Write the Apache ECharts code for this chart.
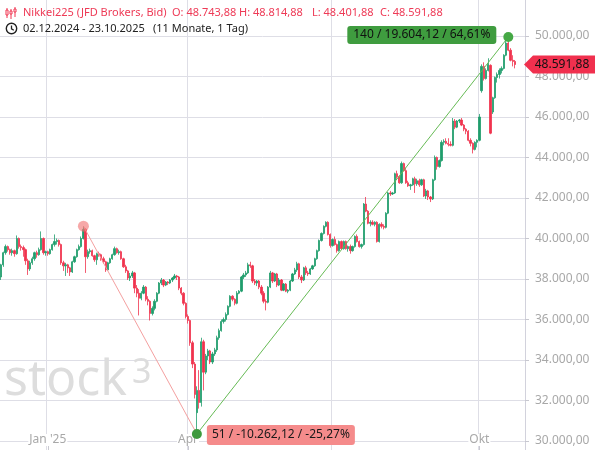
<!DOCTYPE html>
<html><head><meta charset="utf-8">
<script src="https://cdn.jsdelivr.net/npm/echarts@6/dist/echarts.min.js"></script>
<style>html,body{margin:0;padding:0;background:#fff;}#c{width:595px;height:450px;}</style>
</head><body><div id="c"></div>
<script>
// [open, high, low, close]
const candlesDec = [
[38100,38750,37950,38700],[38700,39350,38600,39300],[39300,39700,39200,39600],[39600,39650,39350,39450],
[39450,39500,39200,39300],[39300,39500,39150,39400],[39400,39450,39100,39250],[39250,40150,39200,40000],
[40000,40050,39500,39600],[39600,39700,39400,39550],[39550,39650,39100,39450],[39450,39500,38700,38900],
[38900,39000,38200,38500],[38500,38900,38400,38800],[38800,39100,38700,39000],[39000,39350,38900,39300],
[39300,39400,39050,39200],[39200,39550,39150,39450],[39450,40350,39400,40000],[40000,40050,39200,39300],
[39300,39400,39150,39350]];
const candlesJan = [
[39350,39400,39150,39250],[39250,39500,39200,39450],[39450,39750,39400,39700],[39700,40200,39600,39850],
[39850,40000,39700,39900],[39900,39950,39600,39700],[39700,39750,38700,38800],[38800,38900,38400,38650],
[38650,38800,38150,38700],[38700,38750,38300,38550],[38550,38600,38150,38350],[38350,38900,38300,38850],
[38850,39150,38800,39100],[39100,39500,39050,39450],[39450,39700,39400,39600],[39600,40100,39550,40000],
[40000,40608,39950,40450],[40450,40500,38300,39100],[39100,39450,39000,39350],[39350,39500,39250,39400],
[39400,39450,39100,39150],[39150,39200,38850,38950]];
const candlesFeb = [
[38950,39300,38700,39250],[39250,39350,39100,39200],[39200,39250,38900,39000],[39000,39100,38750,38850],
[38850,38900,38350,38450],[38450,38850,38400,38800],[38800,39050,38750,39000],[39000,39250,38950,39200],
[39200,39600,39150,39500],[39500,39550,39250,39300],[39300,39450,39200,39350],[39350,39400,38950,39000],
[39000,39050,38550,38600],[38600,38700,38300,38400],[38400,38450,37950,38050],[38050,38300,37900,38150],
[38150,38400,38050,38300],[38300,38350,37300,37550],[37550,37700,37100,37300],[37300,37500,36200,37050]];
const candlesMar = [
[37050,37400,36950,37300],[37300,37700,37250,37600],[37600,37650,36900,37000],[37000,37150,36700,36900],
[36900,36950,35950,36300],[36300,36650,36200,36550],[36550,37000,36450,36900],[36900,37350,36850,37300],
[37300,37850,37250,37800],[37800,38050,37700,37950],[37950,38000,37600,37700],[37700,37900,37650,37850],
[37850,37900,37700,37800],[37800,38000,37750,37950],[37950,38100,37850,38050],[38050,38250,38000,38150],
[38150,38200,37950,38100],[38100,38150,37450,37550],[37550,37600,37200,37300],[37300,37350,36700,36800],
[36800,36850,36050,36150]];
const candlesApr = [
[36150,36250,35800,35950],[35950,36000,34700,34850],[34850,34950,33600,33800],[33800,33900,32100,32300],
[31400,32700,30345.88,32500],[32500,33500,31600,31900],[31900,35100,31700,34900],[34900,35000,32500,33400],
[33400,34300,33300,34200],[34200,34550,34000,34450],[34450,34500,33800,33900],[33900,34400,33800,34300],
[34300,34600,34200,34500],[34500,35200,34400,35100],[35100,35550,35000,35450],[35450,36000,35400,35900],
[35900,36100,35800,36000],[36000,36350,35900,36250],[36250,36700,36200,36650],[36650,37200,36600,37150],
[37150,37200,36900,37000],[37000,37050,36700,36800]];
const candlesMay = [
[36800,37400,36750,37300],[37300,37450,37250,37400],[37400,38150,37350,38100],[38100,38300,38000,38200],
[38200,38400,38100,38300],[38300,38800,38250,38700],[38700,38850,38550,38650],[38650,38700,37800,37900],
[37900,38000,37700,37800],[37800,37950,37650,37900],[37900,37950,37500,37600],[37600,37700,37200,37300],
[37300,37400,36800,36900],[36900,37000,36450,36850],[36850,37650,36800,37600],[37600,38400,37550,38300],
[38300,38350,37800,37900],[37900,38300,37850,38250],[38250,38300,37600,37700],[37700,38050,37650,37950],
[37950,38000,37400,37450],[37450,37800,37400,37750]];
const candlesJun = [
[37750,37800,37350,37400],[37400,37500,37300,37450],[37450,37950,37400,37900],[37900,38300,37850,38250],
[38250,38550,38200,38450],[38450,38850,38350,38750],[38750,38800,38000,38100],[38100,38200,37800,37950],
[37950,38600,37900,38550],[38550,38650,38200,38300],[38300,38400,38150,38250],[38250,38550,38200,38500],
[38500,38700,38450,38650],[38650,39050,38600,39000],[39000,39450,38950,39400],[39400,39950,39350,39900],
[39900,40300,39850,40250],[40250,40650,40200,40600],[40600,40850,40550,40800],[40800,40850,40150,40200],
[40200,40250,39550,39650]];
const candlesJul = [
[39650,40000,39600,39950],[39950,40100,39650,39700],[39700,39750,39300,39400],[39400,39900,39350,39850],
[39850,39900,39450,39500],[39500,39900,39450,39850],[39850,39900,39450,39500],[39500,39650,39350,39600],
[39600,39700,39250,39400],[39400,39650,39350,39600],[39600,40150,39550,40100],[40100,40200,39800,39850],
[39850,39900,39550,39600],[39600,39750,39500,39700],[39700,41750,39650,41700],[41700,42050,41300,41350],
[41350,41400,40700,40750],[40750,40900,40600,40800],[40800,40900,40650,40700],[40700,40850,40600,40800],
[40800,40850,39800,39850],[39850,40750,39800,40700],[40700,40800,40500,40600]];
const candlesAug = [
[40600,40700,40450,40550],[40550,41300,40500,41250],[41250,42300,41200,42250],[42250,42350,42100,42200],
[42200,42300,42150,42250],[42250,43250,42200,43200],[43200,43350,42950,43050],[43050,43100,42700,42750],
[42750,43800,42700,43700],[43700,43750,43300,43350],[43350,43500,42700,42750],[42750,42850,42550,42600],
[42600,42700,42400,42650],[42650,43000,42600,42950],[42950,43050,42250,42700],[42700,42950,42600,42850],
[42850,42950,42550,42650],[42650,42950,42600,42900],[42900,42950,42050,42100],[42100,42450,41950,42350],
[42350,42400,41900,42050]];
const candlesSep = [
[42050,42100,41800,41950],[41950,42950,41900,42900],[42900,44100,42850,44000],[44000,44050,43400,43550],
[43550,43900,43500,43850],[43850,44850,43800,44750],[44750,44900,44600,44800],[44800,44950,44650,44700],
[44700,44950,44550,44650],[44650,44800,44550,44600],[44600,45950,44550,45800],[45800,45900,45400,45500],
[45500,45850,45450,45800],[45800,45900,45700,45850],[45850,45950,45550,45600],[45600,45650,45300,45400],
[45400,45450,45150,45300],[45300,45350,44800,44850],[44850,44950,44550,44700],[44700,44750,44200,44400],
[44400,44800,44350,44750],[44750,44900,44500,44850]];
const candlesOct = [
[44850,46150,44800,46000],[47300,48600,47200,48500],[48500,48700,47800,47900],[47900,48400,47850,48300],
[48300,48900,48250,48600],[48550,48600,45150,45200],[46250,47000,46150,46950],[46950,48000,46900,47950],
[47950,48200,47700,48100],[48100,48400,47900,48300],[48300,48500,48150,48400],[48400,49100,48350,49050],
[49050,49750,49000,49650],[49650,49950,49250,49300],[49300,49400,48750,48800],[48800,49050,48500,48743.88],
[48743.88,48814.88,48401.88,48591.88]];

const holidays = ['2024-12-25','2025-01-01'];
const startDate = '2024-12-02';
const futureSlots = 4;
const axisMonthLabels = {'2025-01':"Jan '25", '2025-04':'Apr', '2025-10':'Okt'};
const gridMonths = ['2025-01','2025-04','2025-07','2025-10'];
const measureDown = {from:37, fromVal:40608, to:88, toVal:30345.88, text:'51 / -10.262,12 / -25,27%'};
const measureUp = {from:88, fromVal:30345.88, to:228, toVal:49950, text:'140 / 19.604,12 / 64,61%'};
const headerName = 'Nikkei225 (JFD Brokers, Bid)';
const headerOHLC = ['O: 48.743,88','H: 48.814,88','L: 48.401,88','C: 48.591,88'];
const headerRange = '02.12.2024 - 23.10.2025';
const headerSpan = '(11 Monate, 1 Tag)';
const lastPrice = 48591.88;

const FONT = '"Noto Sans", sans-serif';
const GREEN = '#1f9d6c', RED = '#f0334e';

const candles = [].concat(candlesDec,candlesJan,candlesFeb,candlesMar,candlesApr,candlesMay,candlesJun,candlesJul,candlesAug,candlesSep,candlesOct);
// trading-day categories
const dates = [];
{
  let d = new Date(startDate + 'T00:00:00Z');
  const total = candles.length + futureSlots;
  while (dates.length < total) {
    const wd = d.getUTCDay();
    const s = d.toISOString().slice(0,10);
    if (wd !== 0 && wd !== 6 && holidays.indexOf(s) < 0) dates.push(s);
    d = new Date(d.getTime() + 86400000);
  }
}
const firstOfMonth = {};
dates.forEach((s,i)=>{ const m = s.slice(0,7); if(!(m in firstOfMonth)) firstOfMonth[m]=i; });
const isLabelIdx = (i)=>{ const m = dates[i].slice(0,7); return firstOfMonth[m]===i && (m in axisMonthLabels); };
const isGridIdx = (i)=>{ const m = dates[i].slice(0,7); return firstOfMonth[m]===i && gridMonths.indexOf(m)>=0; };

const seriesData = candles.map(c=>[c[0],c[3],c[2],c[1]]);
function de(v){ const s = Number(v).toFixed(2); let p = s.split('.'); return p[0].replace(/\B(?=(\d{3})+(?!\d))/g,'.') + ',' + p[1]; }

const chart = echarts.init(document.getElementById('c'), null, {renderer:'canvas'});
const option = {
  animation:false,
  backgroundColor:'#fff',
  textStyle:{fontFamily:FONT},
  grid:[{left:0,right:70,top:36,bottom:9},{left:0,right:70,top:0,bottom:0}],
  xAxis:[
    {gridIndex:0,type:'category',data:dates,boundaryGap:true,show:false},
    {gridIndex:1,type:'category',data:dates,boundaryGap:true,
     axisLine:{show:false},
     axisTick:{show:true,inside:true,length:4,alignWithLabel:true,interval:(i)=>isLabelIdx(i),lineStyle:{color:'#c8c8d0'}},
     axisLabel:{inside:true,margin:4,interval:(i)=>isLabelIdx(i),formatter:(v)=>axisMonthLabels[v.slice(0,7)]||'',color:'#a8a8a8',fontSize:12,fontFamily:FONT,backgroundColor:'#fff',padding:[0,1]},
     splitLine:{show:true,interval:(i)=>isGridIdx(i),lineStyle:{color:'#dedee6',width:1}}}
  ],
  yAxis:[
    {gridIndex:0,type:'value',min:30000,max:50000,interval:2000,position:'right',
     axisLine:{show:false},axisTick:{show:true,length:4,lineStyle:{color:'#c8c8d0'}},
     axisLabel:{formatter:de,color:'#a8a8a8',fontSize:12,fontFamily:FONT,margin:10},
     splitLine:{show:true,lineStyle:{color:'#dedee6',width:1}}},
    {gridIndex:1,type:'value',min:0,max:1,position:'right',
     axisLine:{show:true,lineStyle:{color:'#d2d2dc'}},axisTick:{show:false},axisLabel:{show:false},splitLine:{show:false}}
  ],
  series:[{
    type:'candlestick',xAxisIndex:0,yAxisIndex:0,data:seriesData,barWidth:1.8,
    itemStyle:{color:GREEN,color0:RED,borderColor:GREEN,borderColor0:RED,borderWidth:0.8},
    markLine:{silent:true,symbol:['none','none'],label:{show:false},
      data:[
        [{coord:[measureDown.from,measureDown.fromVal],lineStyle:{color:'#f4a0a0',width:1,type:'solid'}},{coord:[measureDown.to,measureDown.toVal]}],
        [{coord:[measureUp.from,measureUp.fromVal],lineStyle:{color:'#66bb55',width:1,type:'solid'}},{coord:[measureUp.to,measureUp.toVal]}]
      ]},
    markPoint:{silent:true,symbol:'circle',label:{show:false},
      data:[
        {coord:[measureDown.from,measureDown.fromVal],symbolSize:11,itemStyle:{color:'rgba(240,110,110,0.6)'}},
        {coord:[measureUp.from,measureUp.fromVal],symbolSize:10,itemStyle:{color:'#3d9a3d'}},
        {coord:[measureUp.to,measureUp.toVal],symbolSize:10,itemStyle:{color:'#45a845'}}
      ]}
  }]
};
chart.setOption(option);

const pLow = chart.convertToPixel({xAxisIndex:0,yAxisIndex:0},[measureUp.from,measureUp.fromVal]);
const pTop = chart.convertToPixel({xAxisIndex:0,yAxisIndex:0},[measureUp.to,measureUp.toVal]);
const pLast = chart.convertToPixel({xAxisIndex:0,yAxisIndex:0},[candles.length-1,lastPrice]);
const axisX = 525;

function txt(x,y,t,color,size,align,extra){
  return Object.assign({type:'text',z:20,style:{x:x,y:y,text:t,fill:color,font:(size||12)+'px '+FONT,align:align||'left',textAlign:align||'left',verticalAlign:'middle',textVerticalAlign:'middle'}},extra||{});
}
const g = [];
// watermark
g.push({type:'text',z:1,style:{x:4,y:406,text:'stock',fill:'#dddddd',font:'50px '+FONT,align:'left',textAlign:'left',verticalAlign:'bottom',textVerticalAlign:'bottom'}});
g.push({type:'text',z:1,style:{x:132,y:356,text:'3',fill:'#dddddd',font:'34px '+FONT,align:'left',textAlign:'left',verticalAlign:'top',textVerticalAlign:'top'}});
// header icon (candles)
[[6,8,18,10,15],[10,9,19,11,14],[14,7,17,9,12]].forEach(a=>{
  g.push({type:'line',z:20,shape:{x1:a[0]+1,y1:a[1],x2:a[0]+1,y2:a[2]},style:{stroke:RED,lineWidth:1}});
  g.push({type:'rect',z:20,shape:{x:a[0],y:a[3],width:2,height:a[4]-a[3]},style:{fill:'#fff',stroke:RED,lineWidth:1}});
});
// clock icon
g.push({type:'circle',z:20,shape:{cx:11.5,cy:28.5,r:5.2},style:{fill:'none',stroke:'#222',lineWidth:1.4}});
g.push({type:'polyline',z:20,shape:{points:[[11.5,25.5],[11.5,28.8],[13.8,30.3]]},style:{fill:'none',stroke:'#222',lineWidth:1.3}});
g.push(txt(23,13,headerName,'#ee3a56',11));
const ohlcX = [172,239,312,380];
headerOHLC.forEach((t,i)=>g.push(txt(ohlcX[i],13,t,'#ee3a56',11)));
g.push(txt(23,29,headerRange,'#222',11));
g.push(txt(153,29,headerSpan,'#222',11));
// measurement boxes
g.push({type:'rect',z:15,shape:{x:pLow[0]+10,y:pLow[1]-9,width:148,height:20,r:3},style:{fill:'#f58b8b'}});
g.push(txt(pLow[0]+84,pLow[1]+1,measureDown.text,'#1a1a1a',12,'center'));
g.push({type:'rect',z:15,shape:{x:pTop[0]-161,y:pTop[1]-11,width:149,height:18,r:3},style:{fill:'#3f9c3f'}});
g.push(txt(pTop[0]-86.5,pTop[1]-2,measureUp.text,'#111',12,'center'));
// last price tag
const ty = pLast[1];
g.push({type:'polygon',z:15,shape:{points:[[axisX-1,ty],[axisX+8,ty-9],[595,ty-9],[595,ty+9],[axisX+8,ty+9]]},style:{fill:'#f0304e'}});
g.push(txt(562,ty,de(lastPrice),'#111',12,'center'));
chart.setOption({graphic:{elements:g}});
</script></body></html>
